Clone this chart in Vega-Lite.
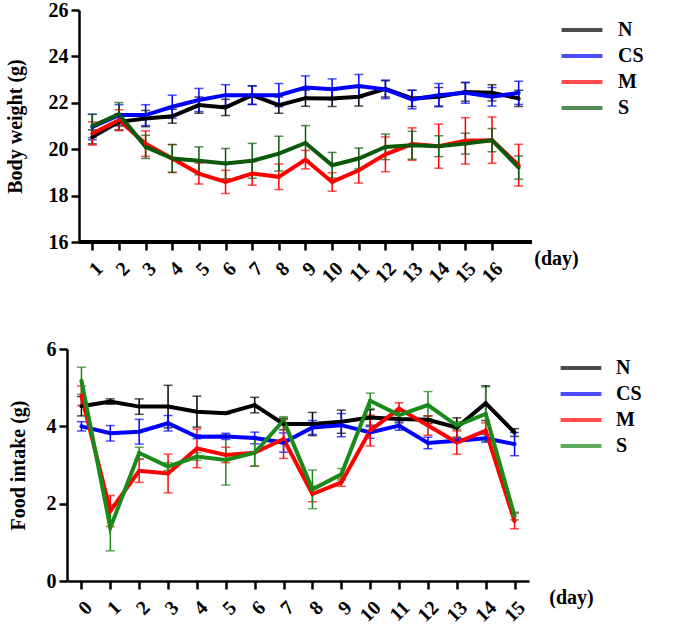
{
"$schema": "https://vega.github.io/schema/vega-lite/v6.json",
"padding": {"left": 5, "top": 0, "right": 5, "bottom": 5},
"background": "white",
"config": {
  "font": "Liberation Serif",
  "view": {"stroke": null},
  "axis": {"labelFont": "Liberation Serif", "labelFontWeight": "bold", "labelFontSize": 20, "labelColor": "black", "titleFont": "Liberation Serif", "titleFontWeight": "bold", "titleFontSize": 20, "titleColor": "black", "domainColor": "black", "domainWidth": 2.5, "tickColor": "black", "tickWidth": 2.5, "tickSize": 8, "grid": false, "labelPadding": 3, "labelOverlap": false},
  "legend": {"labelFont": "Liberation Serif", "labelFontWeight": "bold", "labelFontSize": 20, "labelColor": "black"}
},
"datasets": {
"bw": [
{"group":"N","day":1,"mean":20.53,"sem":0.3},{"group":"N","day":2,"mean":21.18,"sem":0.35},{"group":"N","day":3,"mean":21.32,"sem":0.35},{"group":"N","day":4,"mean":21.42,"sem":0.3},{"group":"N","day":5,"mean":21.9,"sem":0.35},{"group":"N","day":6,"mean":21.8,"sem":0.35},{"group":"N","day":7,"mean":22.33,"sem":0.4},{"group":"N","day":8,"mean":21.9,"sem":0.35},{"group":"N","day":9,"mean":22.2,"sem":0.35},{"group":"N","day":10,"mean":22.19,"sem":0.35},{"group":"N","day":11,"mean":22.26,"sem":0.4},{"group":"N","day":12,"mean":22.6,"sem":0.35},{"group":"N","day":13,"mean":22.19,"sem":0.35},{"group":"N","day":14,"mean":22.26,"sem":0.4},{"group":"N","day":15,"mean":22.47,"sem":0.4},{"group":"N","day":16,"mean":22.43,"sem":0.35},{"group":"N","day":17,"mean":22.19,"sem":0.35},
{"group":"CS","day":1,"mean":20.96,"sem":0.55},{"group":"CS","day":2,"mean":21.47,"sem":0.45},{"group":"CS","day":3,"mean":21.47,"sem":0.45},{"group":"CS","day":4,"mean":21.83,"sem":0.5},{"group":"CS","day":5,"mean":22.12,"sem":0.5},{"group":"CS","day":6,"mean":22.33,"sem":0.45},{"group":"CS","day":7,"mean":22.33,"sem":0.4},{"group":"CS","day":8,"mean":22.33,"sem":0.5},{"group":"CS","day":9,"mean":22.66,"sem":0.5},{"group":"CS","day":10,"mean":22.58,"sem":0.45},{"group":"CS","day":11,"mean":22.72,"sem":0.5},{"group":"CS","day":12,"mean":22.58,"sem":0.4},{"group":"CS","day":13,"mean":22.14,"sem":0.4},{"group":"CS","day":14,"mean":22.33,"sem":0.5},{"group":"CS","day":15,"mean":22.43,"sem":0.45},{"group":"CS","day":16,"mean":22.26,"sem":0.4},{"group":"CS","day":17,"mean":22.43,"sem":0.5},
{"group":"M","day":1,"mean":20.68,"sem":0.5},{"group":"M","day":2,"mean":21.25,"sem":0.45},{"group":"M","day":3,"mean":20.24,"sem":0.55},{"group":"M","day":4,"mean":19.6,"sem":0.6},{"group":"M","day":5,"mean":18.95,"sem":0.45},{"group":"M","day":6,"mean":18.59,"sem":0.5},{"group":"M","day":7,"mean":18.95,"sem":0.5},{"group":"M","day":8,"mean":18.81,"sem":0.55},{"group":"M","day":9,"mean":19.55,"sem":0.4},{"group":"M","day":10,"mean":18.59,"sem":0.4},{"group":"M","day":11,"mean":19.09,"sem":0.55},{"group":"M","day":12,"mean":19.78,"sem":0.75},{"group":"M","day":13,"mean":20.22,"sem":0.7},{"group":"M","day":14,"mean":20.13,"sem":0.95},{"group":"M","day":15,"mean":20.36,"sem":1.0},{"group":"M","day":16,"mean":20.39,"sem":1.0},{"group":"M","day":17,"mean":19.31,"sem":0.9},
{"group":"S","day":1,"mean":21.0,"sem":0.5},{"group":"S","day":2,"mean":21.51,"sem":0.5},{"group":"S","day":3,"mean":20.1,"sem":0.5},{"group":"S","day":4,"mean":19.6,"sem":0.6},{"group":"S","day":5,"mean":19.5,"sem":0.6},{"group":"S","day":6,"mean":19.38,"sem":0.65},{"group":"S","day":7,"mean":19.5,"sem":0.75},{"group":"S","day":8,"mean":19.81,"sem":0.75},{"group":"S","day":9,"mean":20.27,"sem":0.75},{"group":"S","day":10,"mean":19.31,"sem":0.55},{"group":"S","day":11,"mean":19.6,"sem":0.45},{"group":"S","day":12,"mean":20.1,"sem":0.55},{"group":"S","day":13,"mean":20.17,"sem":0.6},{"group":"S","day":14,"mean":20.13,"sem":0.45},{"group":"S","day":15,"mean":20.24,"sem":0.45},{"group":"S","day":16,"mean":20.39,"sem":0.5},{"group":"S","day":17,"mean":19.21,"sem":0.5}
],
"fi": [
{"group":"N","day":0,"mean":4.52,"sem":0.25},{"group":"N","day":1,"mean":4.64,"sem":0.07},{"group":"N","day":2,"mean":4.51,"sem":0.2},{"group":"N","day":3,"mean":4.51,"sem":0.55},{"group":"N","day":4,"mean":4.38,"sem":0.4},{"group":"N","day":5,"mean":4.34,"sem":0.02},{"group":"N","day":6,"mean":4.55,"sem":0.2},{"group":"N","day":7,"mean":4.06,"sem":0.15},{"group":"N","day":8,"mean":4.06,"sem":0.3},{"group":"N","day":9,"mean":4.12,"sem":0.3},{"group":"N","day":10,"mean":4.23,"sem":0.2},{"group":"N","day":11,"mean":4.19,"sem":0.1},{"group":"N","day":12,"mean":4.17,"sem":0.1},{"group":"N","day":13,"mean":3.97,"sem":0.25},{"group":"N","day":14,"mean":4.6,"sem":0.45},{"group":"N","day":15,"mean":3.84,"sem":0.1},
{"group":"CS","day":0,"mean":4.0,"sem":0.12},{"group":"CS","day":1,"mean":3.82,"sem":0.2},{"group":"CS","day":2,"mean":3.86,"sem":0.32},{"group":"CS","day":3,"mean":4.08,"sem":0.2},{"group":"CS","day":4,"mean":3.73,"sem":0.05},{"group":"CS","day":5,"mean":3.74,"sem":0.08},{"group":"CS","day":6,"mean":3.7,"sem":0.15},{"group":"CS","day":7,"mean":3.58,"sem":0.25},{"group":"CS","day":8,"mean":3.97,"sem":0.18},{"group":"CS","day":9,"mean":4.03,"sem":0.3},{"group":"CS","day":10,"mean":3.84,"sem":0.15},{"group":"CS","day":11,"mean":4.02,"sem":0.12},{"group":"CS","day":12,"mean":3.57,"sem":0.15},{"group":"CS","day":13,"mean":3.63,"sem":0.05},{"group":"CS","day":14,"mean":3.69,"sem":0.1},{"group":"CS","day":15,"mean":3.54,"sem":0.3},
{"group":"M","day":0,"mean":4.79,"sem":0.25},{"group":"M","day":1,"mean":1.81,"sem":0.4},{"group":"M","day":2,"mean":2.85,"sem":0.3},{"group":"M","day":3,"mean":2.78,"sem":0.5},{"group":"M","day":4,"mean":3.43,"sem":0.5},{"group":"M","day":5,"mean":3.26,"sem":0.2},{"group":"M","day":6,"mean":3.32,"sem":0.35},{"group":"M","day":7,"mean":3.67,"sem":0.5},{"group":"M","day":8,"mean":2.25,"sem":0.2},{"group":"M","day":9,"mean":2.55,"sem":0.1},{"group":"M","day":10,"mean":3.89,"sem":0.4},{"group":"M","day":11,"mean":4.46,"sem":0.15},{"group":"M","day":12,"mean":4.02,"sem":0.25},{"group":"M","day":13,"mean":3.58,"sem":0.3},{"group":"M","day":14,"mean":3.89,"sem":0.2},{"group":"M","day":15,"mean":1.55,"sem":0.2},
{"group":"S","day":0,"mean":5.18,"sem":0.35},{"group":"S","day":1,"mean":1.38,"sem":0.6},{"group":"S","day":2,"mean":3.31,"sem":0.15},{"group":"S","day":3,"mean":2.96,"sem":0.1},{"group":"S","day":4,"mean":3.22,"sem":0.1},{"group":"S","day":5,"mean":3.13,"sem":0.65},{"group":"S","day":6,"mean":3.32,"sem":0.35},{"group":"S","day":7,"mean":4.15,"sem":0.1},{"group":"S","day":8,"mean":2.37,"sem":0.5},{"group":"S","day":9,"mean":2.76,"sem":0.15},{"group":"S","day":10,"mean":4.66,"sem":0.2},{"group":"S","day":11,"mean":4.29,"sem":0.1},{"group":"S","day":12,"mean":4.55,"sem":0.35},{"group":"S","day":13,"mean":4.02,"sem":0.1},{"group":"S","day":14,"mean":4.32,"sem":0.7},{"group":"S","day":15,"mean":1.68,"sem":0.1}
]
},
"spacing": 52,
"resolve": {"scale": {"color": "independent"}},
"vconcat": [
{
  "width": 465, "height": 232,
  "data": {"name": "bw"},
  "encoding": {
    "x": {"field": "day", "type": "quantitative", "scale": {"domain": [0.05, 17.5], "nice": false, "zero": false},
      "axis": {"values": [1,2,3,4,5,6,7,8,9,10,11,12,13,14,15,16], "domain": false, "labelAngle": -45, "labelPadding": 8, "labelOverlap": false, "labelFont": "Liberation Serif", "labelFontWeight": "bold", "labelFontSize": 20, "titleFont": "Liberation Serif", "titleFontWeight": "bold", "titleFontSize": 20, "title": "(day)", "titleX": 489, "titleY": 16, "titleAlign": "center", "titleBaseline": "middle"}},
    "color": {"field": "group", "type": "nominal", "scale": {"domain": ["N","CS","M","S"], "range": ["#000000","#0000ff","#ff0000","#0b5a0b"]},
      "legend": {"title": null, "orient": "none", "legendX": 501, "legendY": 6, "symbolType": "M-1.7,0H1.7", "symbolStrokeWidth": 4, "symbolSize": 576, "labelOffset": 22, "rowPadding": 2, "labelFont": "Liberation Serif", "labelFontWeight": "bold", "labelFontSize": 20}}
  },
  "layer": [
    {"mark": {"type": "rule", "color": "black", "strokeWidth": 2.5},
     "encoding": {"x": {"datum": 0.5, "type": "quantitative"}, "x2": {"datum": 17.5}, "y": {"datum": 16, "type": "quantitative"}, "color": null}},
    {"mark": {"type": "errorbar", "ticks": {"size": 9, "thickness": 1.5}, "thickness": 1.5},
     "encoding": {
       "y": {"field": "mean", "type": "quantitative", "scale": {"domain": [16, 26], "nice": false, "zero": false},
        "axis": {"values": [16,18,20,22,24,26], "offset": -12, "title": "Body weight (g)", "titlePadding": 23, "labelFont": "Liberation Serif", "labelFontWeight": "bold", "labelFontSize": 20, "titleFont": "Liberation Serif", "titleFontWeight": "bold", "titleFontSize": 20}},
       "yError": {"field": "sem"}}},
    {"mark": {"type": "line", "strokeWidth": 4, "point": {"size": 16, "filled": true}},
     "encoding": {"y": {"field": "mean", "type": "quantitative"}}}
  ]
},
{
  "width": 462, "height": 232,
  "data": {"name": "fi"},
  "encoding": {
    "x": {"field": "day", "type": "quantitative", "scale": {"domain": [-0.5, 15.5], "nice": false, "zero": false},
      "axis": {"values": [0,1,2,3,4,5,6,7,8,9,10,11,12,13,14,15], "labelAngle": -45, "labelPadding": 8, "labelOverlap": false, "labelFont": "Liberation Serif", "labelFontWeight": "bold", "labelFontSize": 20, "titleFont": "Liberation Serif", "titleFontWeight": "bold", "titleFontSize": 20, "title": "(day)", "titleX": 504, "titleY": 16, "titleAlign": "center", "titleBaseline": "middle"}},
    "color": {"field": "group", "type": "nominal", "scale": {"domain": ["N","CS","M","S"], "range": ["#000000","#0000ff","#ff0000","#1a8a1a"]},
      "legend": {"title": null, "orient": "none", "legendX": 500, "legendY": 5, "symbolType": "M-1.7,0H1.7", "symbolStrokeWidth": 4, "symbolSize": 576, "labelOffset": 21, "rowPadding": 2, "labelFont": "Liberation Serif", "labelFontWeight": "bold", "labelFontSize": 20}}
  },
  "layer": [
    {"mark": {"type": "errorbar", "ticks": {"size": 9, "thickness": 1.5}, "thickness": 1.5},
     "encoding": {"y": {"field": "mean", "type": "quantitative", "scale": {"domain": [0, 6], "nice": false},
        "axis": {"values": [0,2,4,6], "title": "Food intake (g)", "titlePadding": 18, "labelFont": "Liberation Serif", "labelFontWeight": "bold", "labelFontSize": 20, "titleFont": "Liberation Serif", "titleFontWeight": "bold", "titleFontSize": 20}},
       "yError": {"field": "sem"}}},
    {"mark": {"type": "line", "strokeWidth": 4, "point": {"size": 16, "filled": true}},
     "encoding": {"y": {"field": "mean", "type": "quantitative"}}}
  ]
}
]
}
